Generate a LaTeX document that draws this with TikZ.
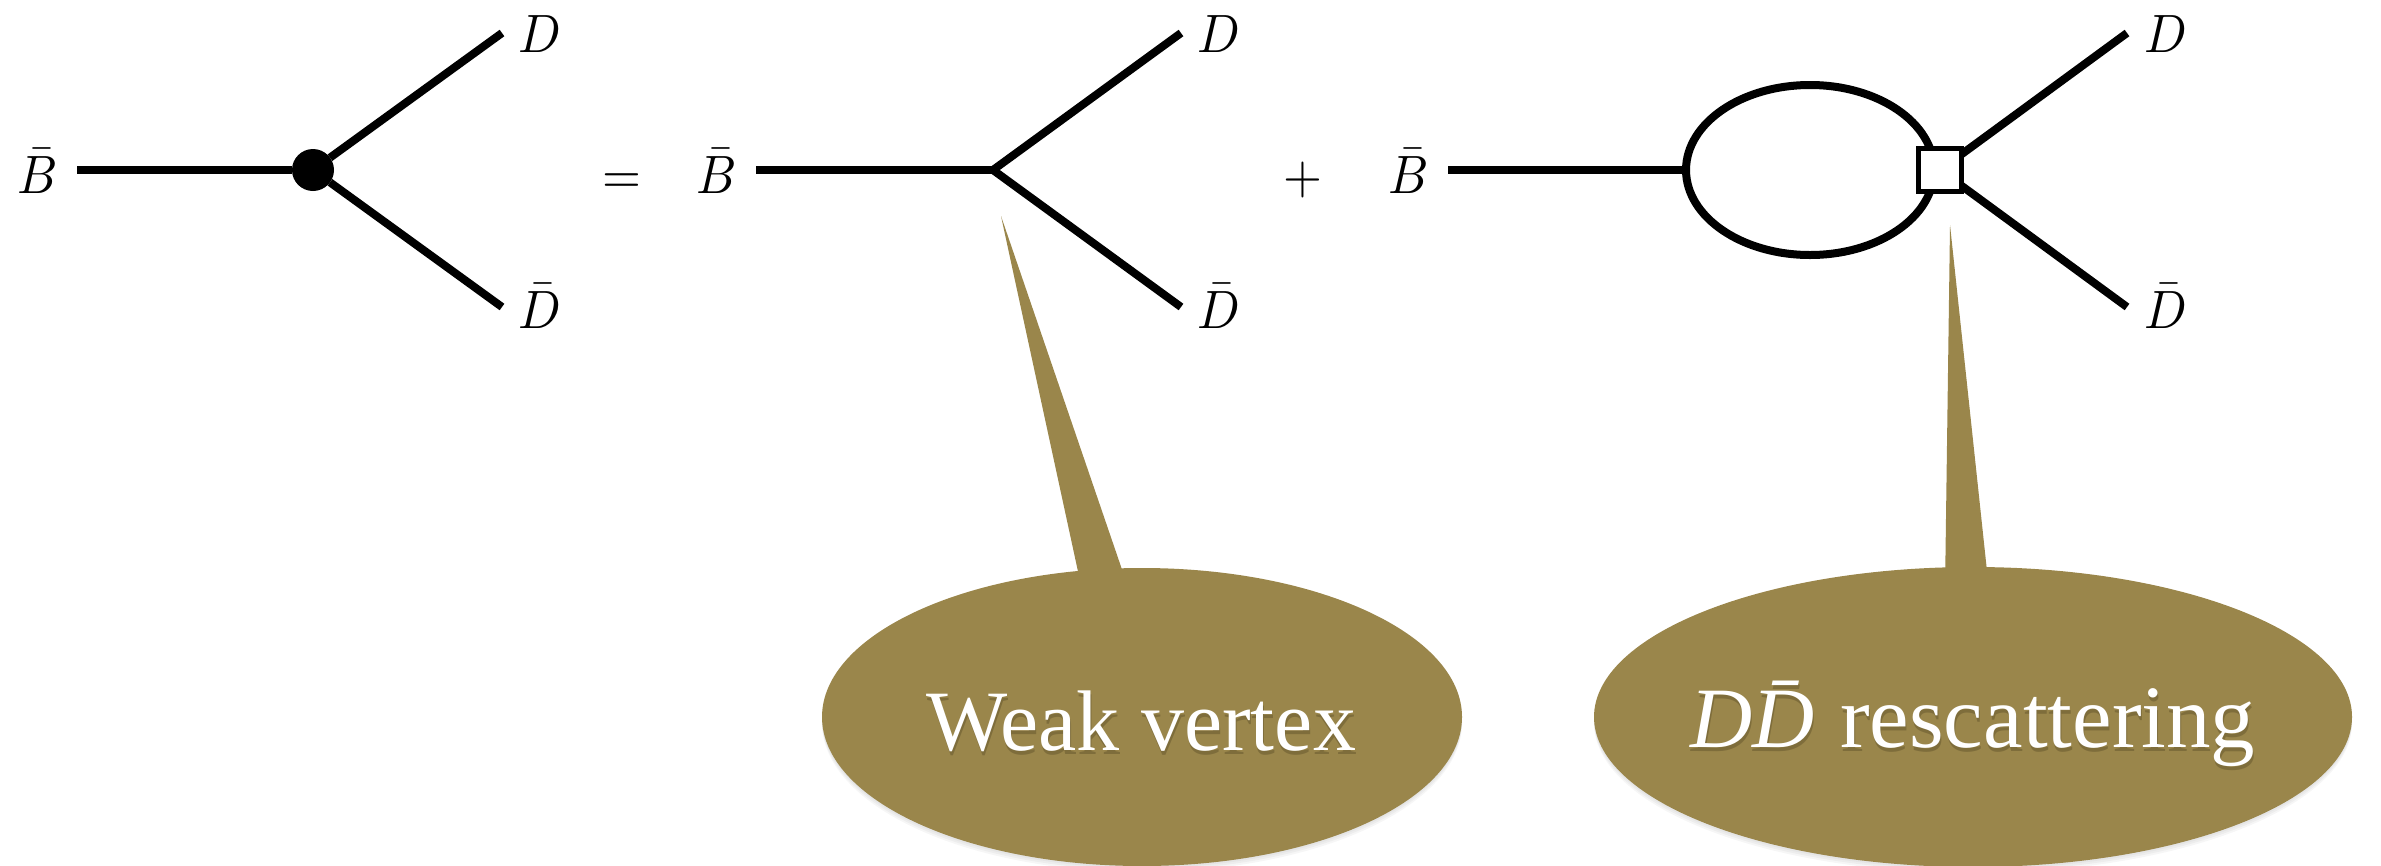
\documentclass[tikz,border=0pt]{standalone}
\usepackage{fontspec}
\setmainfont{Liberation Serif}
\usetikzlibrary{shapes.geometric}
\definecolor{bubblecol}{HTML}{9A864B}
\definecolor{bubbleshade}{HTML}{5E5029}
\newcommand{\lab}[1]{\scalebox{5}[5.4]{$#1$}}
\newcommand{\rescat}{\textit{D\=D}\hspace{-.2em} {\fontsize{89}{94}\selectfont rescattering}}
\tikzset{
  x=1pt,y=-1pt,
  leg/.style={line width=8pt,black,line cap=butt},
  inleg/.style={line width=8.5pt,black,line cap=butt},
  sym/.style={anchor=base,inner sep=0pt,outer sep=0pt},
  vdot/.style={circle,fill=black,minimum size=42pt,inner sep=0pt,outer sep=0pt},
  loopnode/.style={ellipse,draw=black,line width=8pt,fill=none,minimum width=248pt,minimum height=170pt,inner sep=0pt,outer sep=0pt},
  sqnode/.style={rectangle,draw=black,line width=4.5pt,fill=white,minimum width=43pt,minimum height=43pt,inner sep=0pt,outer sep=0pt},
  bubble/.style={ellipse,fill=bubblecol,inner sep=0pt,outer sep=0pt},
  bubsoft/.style={ellipse,fill=black,fill opacity=.035,inner sep=0pt,outer sep=0pt},
  btext/.style={anchor=base,inner sep=0pt,outer sep=0pt,text=white,font=\fontsize{86}{94}\selectfont},
  bshadow/.style={anchor=base,inner sep=0pt,outer sep=0pt,text=bubbleshade,text opacity=.45,font=\fontsize{86}{94}\selectfont},
}
\begin{document}
\begin{tikzpicture}
\useasboundingbox (0,0) rectangle (2381,865);
% free ends
\coordinate (in1) at (77,170);
\coordinate (in2) at (756,170);
\coordinate (in3) at (1448,170);
\coordinate (up1) at (502,33);
\coordinate (dn1) at (502,307);
\coordinate (up2) at (1181,33);
\coordinate (dn2) at (1181,307);
\coordinate (up3) at (2127,33);
\coordinate (dn3) at (2127,307);
\coordinate (weak) at (993,170);
\coordinate (tipa) at (1001,216);
\coordinate (basea1) at (1082,590);
\coordinate (basea2) at (1129,590);
\coordinate (tipb) at (1950,225);
\coordinate (baseb1) at (1945,590);
\coordinate (baseb2) at (1989,590);
% callouts
\foreach \o/\g in {2/0,4/1,6/2}{
  \node[bubsoft,minimum width=640pt,minimum height=298pt] (sa\g) at (1142,717+\o) {};
  \node[bubsoft,minimum width=758pt,minimum height=300pt] (sb\g) at (1973,717+\o) {};
}
\node[bubble,minimum width=640pt,minimum height=298pt] (ca) at (1142,717) {};
\node[bubble,minimum width=758pt,minimum height=300pt] (cb) at (1973,717) {};
\fill[bubblecol] (tipa) -- (basea1) -- (basea2) -- cycle;
\fill[bubblecol] (tipb) -- (baseb1) -- (baseb2) -- cycle;
\node[bshadow] (tas) at (1142,754) {Weak vertex};
\node[btext] (ta) at (1141,750) {Weak vertex};
\node[bshadow] (tbs) at (1974,751) {\rescat};
\node[btext] (tb) at (1973,747) {\rescat};
% first diagram
\node[vdot] (v1) at (313,170) {};
\draw[inleg] (in1) -- (v1);
\draw[leg] (v1) -- (up1);
\draw[leg] (v1) -- (dn1);
\node[sym] (b1) at (38,193) {\lab{\bar B}};
\node[sym] (d1) at (540,52) {\lab{D}};
\node[sym] (db1) at (540,328) {\lab{\bar D}};
\node[sym] (eq) at (622,193) {\lab{=}};
% second diagram
\draw[inleg] (in2) -- (weak);
\draw[leg] (weak) -- (up2);
\draw[leg] (weak) -- (dn2);
\node[sym] (b2) at (717,193) {\lab{\bar B}};
\node[sym] (d2) at (1219,52) {\lab{D}};
\node[sym] (db2) at (1219,328) {\lab{\bar D}};
\node[sym] (plus) at (1303,193) {\lab{+}};
% third diagram
\node[loopnode] (lp) at (1810,170) {};
\node[sqnode] (sq) at (1940,170) {};
\draw[inleg] (in3) -- (lp.west);
\draw[leg] (sq) -- (up3);
\draw[leg] (sq) -- (dn3);
\node[sym] (b3) at (1409,193) {\lab{\bar B}};
\node[sym] (d3) at (2166,52) {\lab{D}};
\node[sym] (db3) at (2166,328) {\lab{\bar D}};
\end{tikzpicture}
\end{document}
